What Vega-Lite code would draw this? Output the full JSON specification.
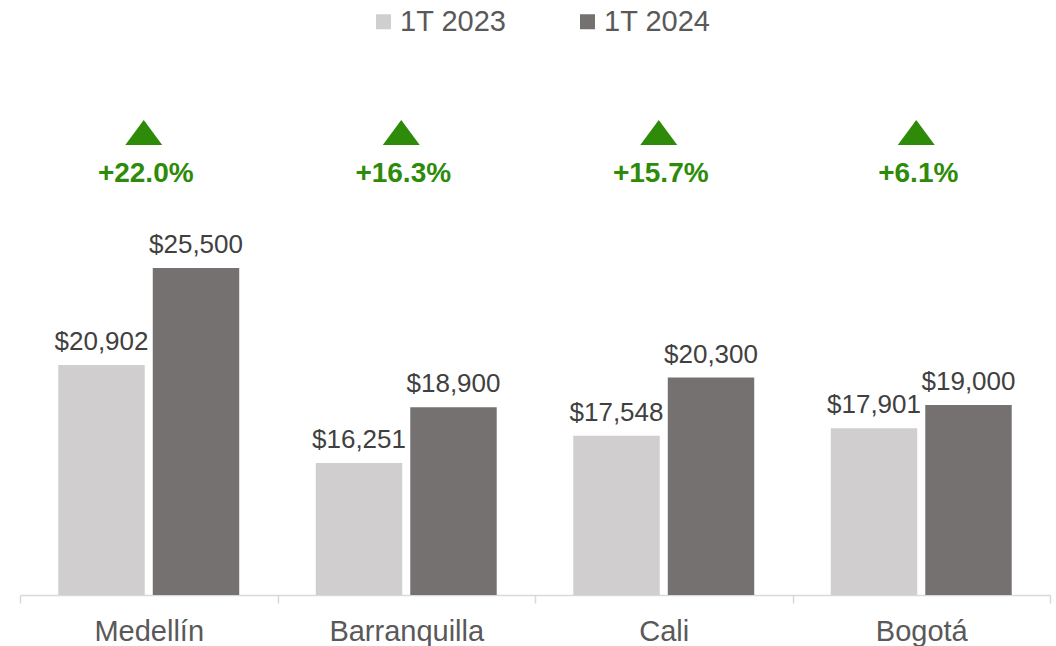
{
  "$schema": "https://vega.github.io/schema/vega-lite/v6.json",
  "width": 1030,
  "height": 535,
  "autosize": {"type": "none"},
  "padding": {"left": 20, "top": 60, "right": 6, "bottom": 51},
  "config": {
    "view": {"stroke": null},
    "font": "Liberation Sans"
  },
  "datasets": {
    "bars": [
      {"city": "Medellín", "period": "1T 2023", "value": 20902},
      {"city": "Medellín", "period": "1T 2024", "value": 25500},
      {"city": "Barranquilla", "period": "1T 2023", "value": 16251},
      {"city": "Barranquilla", "period": "1T 2024", "value": 18900},
      {"city": "Cali", "period": "1T 2023", "value": 17548},
      {"city": "Cali", "period": "1T 2024", "value": 20300},
      {"city": "Bogotá", "period": "1T 2023", "value": 17901},
      {"city": "Bogotá", "period": "1T 2024", "value": 19000}
    ],
    "changes": [
      {"city": "Medellín", "change": "+22.0%", "tri": 31917, "lab": 29570},
      {"city": "Barranquilla", "change": "+16.3%", "tri": 31917, "lab": 29570},
      {"city": "Cali", "change": "+15.7%", "tri": 31917, "lab": 29570},
      {"city": "Bogotá", "change": "+6.1%", "tri": 31917, "lab": 29570}
    ]
  },
  "layer": [
    {
      "data": {"name": "bars"},
      "mark": {"type": "bar"},
      "encoding": {
        "x": {
          "field": "city", "type": "nominal",
          "sort": ["Medellín", "Barranquilla", "Cali", "Bogotá"],
          "scale": {"paddingInner": 0, "paddingOuter": 0},
          "axis": {
            "title": null, "labelAngle": 0, "labelFontSize": 29, "labelColor": "#595959",
            "domainColor": "#D9D9D9", "domainWidth": 1.5, "tickColor": "#D9D9D9", "tickWidth": 1.5,
            "tickSize": 8, "tickBand": "extent", "labelPadding": 14
          }
        },
        "xOffset": {
          "field": "period", "type": "nominal",
          "scale": {"paddingInner": 0.085, "paddingOuter": 0.405}
        },
        "y": {
          "field": "value", "type": "quantitative",
          "scale": {"domain": [10000, 35350], "zero": false, "nice": false},
          "axis": null
        },
        "y2": {"datum": 10000},
        "color": {
          "field": "period", "type": "nominal",
          "scale": {"domain": ["1T 2023", "1T 2024"], "range": ["#D0CECE", "#767171"]},
          "legend": {
            "orient": "none", "legendX": 349, "legendY": -53, "direction": "horizontal",
            "title": null, "symbolType": "square", "symbolSize": 225, "symbolStrokeWidth": 0,
            "labelFontSize": 29, "labelColor": "#595959", "columnPadding": 66, "labelOffset": 2,
            "padding": 0
          }
        }
      }
    },
    {
      "data": {"name": "bars"},
      "mark": {"type": "text", "baseline": "alphabetic", "dy": -15, "fontSize": 26, "color": "#404040"},
      "encoding": {
        "x": {"field": "city", "type": "nominal", "sort": ["Medellín", "Barranquilla", "Cali", "Bogotá"]},
        "xOffset": {"field": "period", "type": "nominal"},
        "y": {"field": "value", "type": "quantitative"},
        "text": {"field": "value", "type": "quantitative", "format": "$,.0f"}
      }
    },
    {
      "data": {"name": "changes"},
      "mark": {"type": "point", "shape": "M-1,0.676L1,0.676L0,-0.676Z", "filled": true, "size": 1369, "color": "#2E8B0A", "opacity": 1, "xOffset": -5},
      "encoding": {
        "x": {"field": "city", "type": "nominal", "sort": ["Medellín", "Barranquilla", "Cali", "Bogotá"]},
        "y": {"field": "tri", "type": "quantitative"}
      }
    },
    {
      "data": {"name": "changes"},
      "mark": {"type": "text", "baseline": "alphabetic", "fontSize": 28, "fontWeight": "bold", "color": "#2E8B0A", "dx": -3},
      "encoding": {
        "x": {"field": "city", "type": "nominal", "sort": ["Medellín", "Barranquilla", "Cali", "Bogotá"]},
        "y": {"field": "lab", "type": "quantitative"},
        "text": {"field": "change", "type": "nominal"}
      }
    }
  ]
}
